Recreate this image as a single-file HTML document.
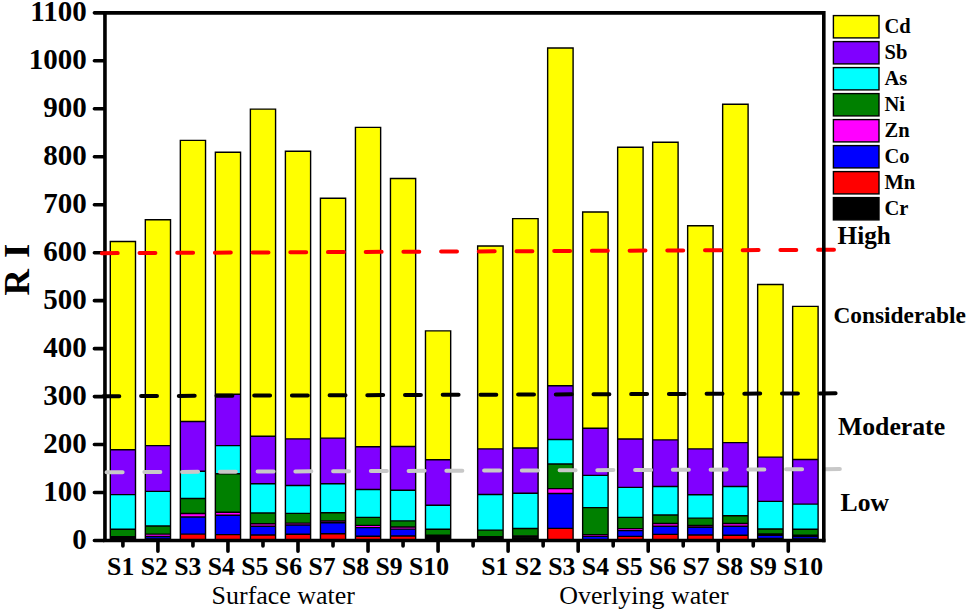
<!DOCTYPE html>
<html><head><meta charset="utf-8"><style>
html,body{margin:0;padding:0;background:#fff;width:968px;height:614px;overflow:hidden}
svg{display:block}
.b{font-family:"Liberation Serif",serif;font-weight:bold;fill:#000}
.r{font-family:"Liberation Serif",serif;font-weight:normal;fill:#000}
</style></head><body>
<svg width="968" height="614" viewBox="0 0 968 614">
<rect width="968" height="614" fill="#fff"/>
<rect x="110.30" y="241.50" width="25.20" height="208.20" fill="#FFFF00"/>
<rect x="110.30" y="449.70" width="25.20" height="44.90" fill="#8000FF"/>
<rect x="110.30" y="494.60" width="25.20" height="34.70" fill="#00FFFF"/>
<rect x="110.30" y="529.30" width="25.20" height="7.30" fill="#008000"/>
<rect x="110.30" y="536.60" width="25.20" height="0.40" fill="#FF00FF"/>
<rect x="110.30" y="537.00" width="25.20" height="0.40" fill="#0000FF"/>
<rect x="110.30" y="537.40" width="25.20" height="0.40" fill="#FF0000"/>
<rect x="110.30" y="537.80" width="25.20" height="2.70" fill="#000000"/>
<path d="M109.60 241.50H136.20M109.60 449.70H136.20M109.60 494.60H136.20M109.60 529.30H136.20M109.60 536.60H136.20M109.60 537.00H136.20M109.60 537.40H136.20M109.60 537.80H136.20M110.30 240.80V540.50M135.50 240.80V540.50" stroke="#000" stroke-width="1.4" fill="none"/>
<rect x="145.32" y="219.80" width="25.20" height="225.80" fill="#FFFF00"/>
<rect x="145.32" y="445.60" width="25.20" height="45.80" fill="#8000FF"/>
<rect x="145.32" y="491.40" width="25.20" height="34.60" fill="#00FFFF"/>
<rect x="145.32" y="526.00" width="25.20" height="8.10" fill="#008000"/>
<rect x="145.32" y="534.10" width="25.20" height="2.40" fill="#FF00FF"/>
<rect x="145.32" y="536.50" width="25.20" height="2.50" fill="#0000FF"/>
<rect x="145.32" y="539.00" width="25.20" height="0.50" fill="#FF0000"/>
<rect x="145.32" y="539.50" width="25.20" height="1.00" fill="#000000"/>
<path d="M144.62 219.80H171.22M144.62 445.60H171.22M144.62 491.40H171.22M144.62 526.00H171.22M144.62 534.10H171.22M144.62 536.50H171.22M144.62 539.00H171.22M144.62 539.50H171.22M145.32 219.10V540.50M170.52 219.10V540.50" stroke="#000" stroke-width="1.4" fill="none"/>
<rect x="180.34" y="140.40" width="25.20" height="281.10" fill="#FFFF00"/>
<rect x="180.34" y="421.50" width="25.20" height="49.70" fill="#8000FF"/>
<rect x="180.34" y="471.20" width="25.20" height="27.30" fill="#00FFFF"/>
<rect x="180.34" y="498.50" width="25.20" height="15.00" fill="#008000"/>
<rect x="180.34" y="513.50" width="25.20" height="3.50" fill="#FF00FF"/>
<rect x="180.34" y="517.00" width="25.20" height="17.10" fill="#0000FF"/>
<rect x="180.34" y="534.10" width="25.20" height="5.90" fill="#FF0000"/>
<rect x="180.34" y="540.00" width="25.20" height="0.50" fill="#000000"/>
<path d="M179.64 140.40H206.24M179.64 421.50H206.24M179.64 471.20H206.24M179.64 498.50H206.24M179.64 513.50H206.24M179.64 517.00H206.24M179.64 534.10H206.24M179.64 540.00H206.24M180.34 139.70V540.50M205.54 139.70V540.50" stroke="#000" stroke-width="1.4" fill="none"/>
<rect x="215.36" y="152.30" width="25.20" height="242.00" fill="#FFFF00"/>
<rect x="215.36" y="394.30" width="25.20" height="51.30" fill="#8000FF"/>
<rect x="215.36" y="445.60" width="25.20" height="28.20" fill="#00FFFF"/>
<rect x="215.36" y="473.80" width="25.20" height="38.40" fill="#008000"/>
<rect x="215.36" y="512.20" width="25.20" height="3.10" fill="#FF00FF"/>
<rect x="215.36" y="515.30" width="25.20" height="19.30" fill="#0000FF"/>
<rect x="215.36" y="534.60" width="25.20" height="5.40" fill="#FF0000"/>
<rect x="215.36" y="540.00" width="25.20" height="0.50" fill="#000000"/>
<path d="M214.66 152.30H241.26M214.66 394.30H241.26M214.66 445.60H241.26M214.66 473.80H241.26M214.66 512.20H241.26M214.66 515.30H241.26M214.66 534.60H241.26M214.66 540.00H241.26M215.36 151.60V540.50M240.56 151.60V540.50" stroke="#000" stroke-width="1.4" fill="none"/>
<rect x="250.38" y="109.10" width="25.20" height="327.10" fill="#FFFF00"/>
<rect x="250.38" y="436.20" width="25.20" height="47.50" fill="#8000FF"/>
<rect x="250.38" y="483.70" width="25.20" height="29.30" fill="#00FFFF"/>
<rect x="250.38" y="513.00" width="25.20" height="10.80" fill="#008000"/>
<rect x="250.38" y="523.80" width="25.20" height="2.40" fill="#FF00FF"/>
<rect x="250.38" y="526.20" width="25.20" height="8.80" fill="#0000FF"/>
<rect x="250.38" y="535.00" width="25.20" height="5.00" fill="#FF0000"/>
<rect x="250.38" y="540.00" width="25.20" height="0.50" fill="#000000"/>
<path d="M249.68 109.10H276.28M249.68 436.20H276.28M249.68 483.70H276.28M249.68 513.00H276.28M249.68 523.80H276.28M249.68 526.20H276.28M249.68 535.00H276.28M249.68 540.00H276.28M250.38 108.40V540.50M275.58 108.40V540.50" stroke="#000" stroke-width="1.4" fill="none"/>
<rect x="285.40" y="151.20" width="25.20" height="287.70" fill="#FFFF00"/>
<rect x="285.40" y="438.90" width="25.20" height="46.60" fill="#8000FF"/>
<rect x="285.40" y="485.50" width="25.20" height="27.90" fill="#00FFFF"/>
<rect x="285.40" y="513.40" width="25.20" height="9.70" fill="#008000"/>
<rect x="285.40" y="523.10" width="25.20" height="1.90" fill="#FF00FF"/>
<rect x="285.40" y="525.00" width="25.20" height="9.30" fill="#0000FF"/>
<rect x="285.40" y="534.30" width="25.20" height="5.70" fill="#FF0000"/>
<rect x="285.40" y="540.00" width="25.20" height="0.50" fill="#000000"/>
<path d="M284.70 151.20H311.30M284.70 438.90H311.30M284.70 485.50H311.30M284.70 513.40H311.30M284.70 523.10H311.30M284.70 525.00H311.30M284.70 534.30H311.30M284.70 540.00H311.30M285.40 150.50V540.50M310.60 150.50V540.50" stroke="#000" stroke-width="1.4" fill="none"/>
<rect x="320.42" y="198.20" width="25.20" height="239.90" fill="#FFFF00"/>
<rect x="320.42" y="438.10" width="25.20" height="45.60" fill="#8000FF"/>
<rect x="320.42" y="483.70" width="25.20" height="29.00" fill="#00FFFF"/>
<rect x="320.42" y="512.70" width="25.20" height="8.30" fill="#008000"/>
<rect x="320.42" y="521.00" width="25.20" height="1.80" fill="#FF00FF"/>
<rect x="320.42" y="522.80" width="25.20" height="11.00" fill="#0000FF"/>
<rect x="320.42" y="533.80" width="25.20" height="6.20" fill="#FF0000"/>
<rect x="320.42" y="540.00" width="25.20" height="0.50" fill="#000000"/>
<path d="M319.72 198.20H346.32M319.72 438.10H346.32M319.72 483.70H346.32M319.72 512.70H346.32M319.72 521.00H346.32M319.72 522.80H346.32M319.72 533.80H346.32M319.72 540.00H346.32M320.42 197.50V540.50M345.62 197.50V540.50" stroke="#000" stroke-width="1.4" fill="none"/>
<rect x="355.44" y="127.40" width="25.20" height="319.30" fill="#FFFF00"/>
<rect x="355.44" y="446.70" width="25.20" height="42.80" fill="#8000FF"/>
<rect x="355.44" y="489.50" width="25.20" height="27.90" fill="#00FFFF"/>
<rect x="355.44" y="517.40" width="25.20" height="8.00" fill="#008000"/>
<rect x="355.44" y="525.40" width="25.20" height="2.20" fill="#FF00FF"/>
<rect x="355.44" y="527.60" width="25.20" height="8.60" fill="#0000FF"/>
<rect x="355.44" y="536.20" width="25.20" height="3.80" fill="#FF0000"/>
<rect x="355.44" y="540.00" width="25.20" height="0.50" fill="#000000"/>
<path d="M354.74 127.40H381.34M354.74 446.70H381.34M354.74 489.50H381.34M354.74 517.40H381.34M354.74 525.40H381.34M354.74 527.60H381.34M354.74 536.20H381.34M354.74 540.00H381.34M355.44 126.70V540.50M380.64 126.70V540.50" stroke="#000" stroke-width="1.4" fill="none"/>
<rect x="390.46" y="178.50" width="25.20" height="268.00" fill="#FFFF00"/>
<rect x="390.46" y="446.50" width="25.20" height="43.70" fill="#8000FF"/>
<rect x="390.46" y="490.20" width="25.20" height="30.70" fill="#00FFFF"/>
<rect x="390.46" y="520.90" width="25.20" height="6.10" fill="#008000"/>
<rect x="390.46" y="527.00" width="25.20" height="2.10" fill="#FF00FF"/>
<rect x="390.46" y="529.10" width="25.20" height="6.90" fill="#0000FF"/>
<rect x="390.46" y="536.00" width="25.20" height="4.00" fill="#FF0000"/>
<rect x="390.46" y="540.00" width="25.20" height="0.50" fill="#000000"/>
<path d="M389.76 178.50H416.36M389.76 446.50H416.36M389.76 490.20H416.36M389.76 520.90H416.36M389.76 527.00H416.36M389.76 529.10H416.36M389.76 536.00H416.36M389.76 540.00H416.36M390.46 177.80V540.50M415.66 177.80V540.50" stroke="#000" stroke-width="1.4" fill="none"/>
<rect x="425.48" y="330.90" width="25.20" height="128.80" fill="#FFFF00"/>
<rect x="425.48" y="459.70" width="25.20" height="45.50" fill="#8000FF"/>
<rect x="425.48" y="505.20" width="25.20" height="24.00" fill="#00FFFF"/>
<rect x="425.48" y="529.20" width="25.20" height="6.10" fill="#008000"/>
<rect x="425.48" y="535.30" width="25.20" height="0.50" fill="#FF00FF"/>
<rect x="425.48" y="535.80" width="25.20" height="0.50" fill="#0000FF"/>
<rect x="425.48" y="536.30" width="25.20" height="0.50" fill="#FF0000"/>
<rect x="425.48" y="536.80" width="25.20" height="3.70" fill="#000000"/>
<path d="M424.78 330.90H451.38M424.78 459.70H451.38M424.78 505.20H451.38M424.78 529.20H451.38M424.78 535.30H451.38M424.78 535.80H451.38M424.78 536.30H451.38M424.78 536.80H451.38M425.48 330.20V540.50M450.68 330.20V540.50" stroke="#000" stroke-width="1.4" fill="none"/>
<rect x="477.65" y="246.00" width="25.45" height="202.90" fill="#FFFF00"/>
<rect x="477.65" y="448.90" width="25.45" height="45.60" fill="#8000FF"/>
<rect x="477.65" y="494.50" width="25.45" height="35.60" fill="#00FFFF"/>
<rect x="477.65" y="530.10" width="25.45" height="6.50" fill="#008000"/>
<rect x="477.65" y="536.60" width="25.45" height="0.40" fill="#FF00FF"/>
<rect x="477.65" y="537.00" width="25.45" height="0.40" fill="#0000FF"/>
<rect x="477.65" y="537.40" width="25.45" height="0.40" fill="#FF0000"/>
<rect x="477.65" y="537.80" width="25.45" height="2.70" fill="#000000"/>
<path d="M476.95 246.00H503.80M476.95 448.90H503.80M476.95 494.50H503.80M476.95 530.10H503.80M476.95 536.60H503.80M476.95 537.00H503.80M476.95 537.40H503.80M476.95 537.80H503.80M477.65 245.30V540.50M503.10 245.30V540.50" stroke="#000" stroke-width="1.4" fill="none"/>
<rect x="512.65" y="218.60" width="25.45" height="229.40" fill="#FFFF00"/>
<rect x="512.65" y="448.00" width="25.45" height="45.30" fill="#8000FF"/>
<rect x="512.65" y="493.30" width="25.45" height="35.20" fill="#00FFFF"/>
<rect x="512.65" y="528.50" width="25.45" height="7.40" fill="#008000"/>
<rect x="512.65" y="535.90" width="25.45" height="0.40" fill="#FF00FF"/>
<rect x="512.65" y="536.30" width="25.45" height="0.40" fill="#0000FF"/>
<rect x="512.65" y="536.70" width="25.45" height="0.40" fill="#FF0000"/>
<rect x="512.65" y="537.10" width="25.45" height="3.40" fill="#000000"/>
<path d="M511.95 218.60H538.80M511.95 448.00H538.80M511.95 493.30H538.80M511.95 528.50H538.80M511.95 535.90H538.80M511.95 536.30H538.80M511.95 536.70H538.80M511.95 537.10H538.80M512.65 217.90V540.50M538.10 217.90V540.50" stroke="#000" stroke-width="1.4" fill="none"/>
<rect x="547.65" y="48.00" width="25.45" height="337.80" fill="#FFFF00"/>
<rect x="547.65" y="385.80" width="25.45" height="53.70" fill="#8000FF"/>
<rect x="547.65" y="439.50" width="25.45" height="24.50" fill="#00FFFF"/>
<rect x="547.65" y="464.00" width="25.45" height="24.60" fill="#008000"/>
<rect x="547.65" y="488.60" width="25.45" height="4.90" fill="#FF00FF"/>
<rect x="547.65" y="493.50" width="25.45" height="34.90" fill="#0000FF"/>
<rect x="547.65" y="528.40" width="25.45" height="11.60" fill="#FF0000"/>
<rect x="547.65" y="540.00" width="25.45" height="0.50" fill="#000000"/>
<path d="M546.95 48.00H573.80M546.95 385.80H573.80M546.95 439.50H573.80M546.95 464.00H573.80M546.95 488.60H573.80M546.95 493.50H573.80M546.95 528.40H573.80M546.95 540.00H573.80M547.65 47.30V540.50M573.10 47.30V540.50" stroke="#000" stroke-width="1.4" fill="none"/>
<rect x="582.65" y="212.00" width="25.45" height="216.30" fill="#FFFF00"/>
<rect x="582.65" y="428.30" width="25.45" height="47.10" fill="#8000FF"/>
<rect x="582.65" y="475.40" width="25.45" height="32.20" fill="#00FFFF"/>
<rect x="582.65" y="507.60" width="25.45" height="27.00" fill="#008000"/>
<rect x="582.65" y="534.60" width="25.45" height="1.80" fill="#FF00FF"/>
<rect x="582.65" y="536.40" width="25.45" height="3.60" fill="#0000FF"/>
<rect x="582.65" y="540.00" width="25.45" height="0.20" fill="#FF0000"/>
<rect x="582.65" y="540.20" width="25.45" height="0.30" fill="#000000"/>
<path d="M581.95 212.00H608.80M581.95 428.30H608.80M581.95 475.40H608.80M581.95 507.60H608.80M581.95 534.60H608.80M581.95 536.40H608.80M581.95 540.00H608.80M581.95 540.20H608.80M582.65 211.30V540.50M608.10 211.30V540.50" stroke="#000" stroke-width="1.4" fill="none"/>
<rect x="617.65" y="147.20" width="25.45" height="291.80" fill="#FFFF00"/>
<rect x="617.65" y="439.00" width="25.45" height="48.40" fill="#8000FF"/>
<rect x="617.65" y="487.40" width="25.45" height="30.00" fill="#00FFFF"/>
<rect x="617.65" y="517.40" width="25.45" height="11.20" fill="#008000"/>
<rect x="617.65" y="528.60" width="25.45" height="2.00" fill="#FF00FF"/>
<rect x="617.65" y="530.60" width="25.45" height="5.80" fill="#0000FF"/>
<rect x="617.65" y="536.40" width="25.45" height="3.60" fill="#FF0000"/>
<rect x="617.65" y="540.00" width="25.45" height="0.50" fill="#000000"/>
<path d="M616.95 147.20H643.80M616.95 439.00H643.80M616.95 487.40H643.80M616.95 517.40H643.80M616.95 528.60H643.80M616.95 530.60H643.80M616.95 536.40H643.80M616.95 540.00H643.80M617.65 146.50V540.50M643.10 146.50V540.50" stroke="#000" stroke-width="1.4" fill="none"/>
<rect x="652.65" y="142.20" width="25.45" height="297.70" fill="#FFFF00"/>
<rect x="652.65" y="439.90" width="25.45" height="46.60" fill="#8000FF"/>
<rect x="652.65" y="486.50" width="25.45" height="28.50" fill="#00FFFF"/>
<rect x="652.65" y="515.00" width="25.45" height="8.50" fill="#008000"/>
<rect x="652.65" y="523.50" width="25.45" height="2.70" fill="#FF00FF"/>
<rect x="652.65" y="526.20" width="25.45" height="8.20" fill="#0000FF"/>
<rect x="652.65" y="534.40" width="25.45" height="5.60" fill="#FF0000"/>
<rect x="652.65" y="540.00" width="25.45" height="0.50" fill="#000000"/>
<path d="M651.95 142.20H678.80M651.95 439.90H678.80M651.95 486.50H678.80M651.95 515.00H678.80M651.95 523.50H678.80M651.95 526.20H678.80M651.95 534.40H678.80M651.95 540.00H678.80M652.65 141.50V540.50M678.10 141.50V540.50" stroke="#000" stroke-width="1.4" fill="none"/>
<rect x="687.65" y="225.80" width="25.45" height="223.10" fill="#FFFF00"/>
<rect x="687.65" y="448.90" width="25.45" height="45.90" fill="#8000FF"/>
<rect x="687.65" y="494.80" width="25.45" height="23.30" fill="#00FFFF"/>
<rect x="687.65" y="518.10" width="25.45" height="7.40" fill="#008000"/>
<rect x="687.65" y="525.50" width="25.45" height="1.70" fill="#FF00FF"/>
<rect x="687.65" y="527.20" width="25.45" height="7.80" fill="#0000FF"/>
<rect x="687.65" y="535.00" width="25.45" height="5.00" fill="#FF0000"/>
<rect x="687.65" y="540.00" width="25.45" height="0.50" fill="#000000"/>
<path d="M686.95 225.80H713.80M686.95 448.90H713.80M686.95 494.80H713.80M686.95 518.10H713.80M686.95 525.50H713.80M686.95 527.20H713.80M686.95 535.00H713.80M686.95 540.00H713.80M687.65 225.10V540.50M713.10 225.10V540.50" stroke="#000" stroke-width="1.4" fill="none"/>
<rect x="722.65" y="104.20" width="25.45" height="338.40" fill="#FFFF00"/>
<rect x="722.65" y="442.60" width="25.45" height="43.90" fill="#8000FF"/>
<rect x="722.65" y="486.50" width="25.45" height="29.20" fill="#00FFFF"/>
<rect x="722.65" y="515.70" width="25.45" height="7.80" fill="#008000"/>
<rect x="722.65" y="523.50" width="25.45" height="2.70" fill="#FF00FF"/>
<rect x="722.65" y="526.20" width="25.45" height="9.10" fill="#0000FF"/>
<rect x="722.65" y="535.30" width="25.45" height="4.70" fill="#FF0000"/>
<rect x="722.65" y="540.00" width="25.45" height="0.50" fill="#000000"/>
<path d="M721.95 104.20H748.80M721.95 442.60H748.80M721.95 486.50H748.80M721.95 515.70H748.80M721.95 523.50H748.80M721.95 526.20H748.80M721.95 535.30H748.80M721.95 540.00H748.80M722.65 103.50V540.50M748.10 103.50V540.50" stroke="#000" stroke-width="1.4" fill="none"/>
<rect x="757.65" y="284.50" width="25.45" height="172.60" fill="#FFFF00"/>
<rect x="757.65" y="457.10" width="25.45" height="44.30" fill="#8000FF"/>
<rect x="757.65" y="501.40" width="25.45" height="27.60" fill="#00FFFF"/>
<rect x="757.65" y="529.00" width="25.45" height="5.00" fill="#008000"/>
<rect x="757.65" y="534.00" width="25.45" height="1.40" fill="#FF00FF"/>
<rect x="757.65" y="535.40" width="25.45" height="3.10" fill="#0000FF"/>
<rect x="757.65" y="538.50" width="25.45" height="1.00" fill="#FF0000"/>
<rect x="757.65" y="539.50" width="25.45" height="1.00" fill="#000000"/>
<path d="M756.95 284.50H783.80M756.95 457.10H783.80M756.95 501.40H783.80M756.95 529.00H783.80M756.95 534.00H783.80M756.95 535.40H783.80M756.95 538.50H783.80M756.95 539.50H783.80M757.65 283.80V540.50M783.10 283.80V540.50" stroke="#000" stroke-width="1.4" fill="none"/>
<rect x="792.65" y="306.40" width="25.45" height="153.10" fill="#FFFF00"/>
<rect x="792.65" y="459.50" width="25.45" height="44.60" fill="#8000FF"/>
<rect x="792.65" y="504.10" width="25.45" height="25.20" fill="#00FFFF"/>
<rect x="792.65" y="529.30" width="25.45" height="6.00" fill="#008000"/>
<rect x="792.65" y="535.30" width="25.45" height="1.20" fill="#FF00FF"/>
<rect x="792.65" y="536.50" width="25.45" height="2.50" fill="#0000FF"/>
<rect x="792.65" y="539.00" width="25.45" height="0.50" fill="#FF0000"/>
<rect x="792.65" y="539.50" width="25.45" height="1.00" fill="#000000"/>
<path d="M791.95 306.40H818.80M791.95 459.50H818.80M791.95 504.10H818.80M791.95 529.30H818.80M791.95 535.30H818.80M791.95 536.50H818.80M791.95 539.00H818.80M791.95 539.50H818.80M792.65 305.70V540.50M818.10 305.70V540.50" stroke="#000" stroke-width="1.4" fill="none"/>
<path d="M104.95 11.1V542.3M103 540.5H825.4" stroke="#000" stroke-width="3.6" fill="none"/>
<path d="M94.4 540.50H104M94.4 492.53H104M94.4 444.56H104M94.4 396.60H104M94.4 348.63H104M94.4 300.66H104M94.4 252.69H104M94.4 204.72H104M94.4 156.75H104M94.4 108.79H104M94.4 60.82H104M94.4 12.85H104M122.90 541V545.90M157.92 541V551.20M192.94 541V545.90M227.96 541V551.20M262.98 541V545.90M298.00 541V551.20M333.02 541V545.90M368.04 541V551.20M403.06 541V545.90M438.08 541V551.20M473.10 541V545.90M508.12 541V551.20M543.14 541V545.90M578.16 541V551.20M613.18 541V545.90M648.20 541V551.20M683.22 541V545.90M718.24 541V551.20M753.26 541V545.90M788.28 541V551.20" stroke="#000" stroke-width="3.6" stroke-linecap="round" fill="none"/>
<line x1="99.8" y1="253.2" x2="835.6" y2="249.7" stroke="#FF0000" stroke-width="4" stroke-linecap="round" stroke-dasharray="15.9 21.8" transform="translate(2,0)"/>
<line x1="101.4" y1="396.2" x2="837.1" y2="393.3" stroke="#000" stroke-width="4" stroke-linecap="round" stroke-dasharray="15.9 21.8" transform="translate(2,0)"/>
<line x1="104.6" y1="472.2" x2="840.5" y2="469.1" stroke="#C8C8C8" stroke-width="4" stroke-linecap="round" stroke-dasharray="16.0 21.75" transform="translate(2,0)"/>
<path d="M103 12.85H825.6M823.8 11.1V542.3" stroke="#000" stroke-width="3.6" fill="none"/>
<text x="86.7" y="548.60" text-anchor="end" class="b" font-size="29">0</text>
<text x="86.7" y="500.63" text-anchor="end" class="b" font-size="29">100</text>
<text x="86.7" y="452.66" text-anchor="end" class="b" font-size="29">200</text>
<text x="86.7" y="404.70" text-anchor="end" class="b" font-size="29">300</text>
<text x="86.7" y="356.73" text-anchor="end" class="b" font-size="29">400</text>
<text x="86.7" y="308.76" text-anchor="end" class="b" font-size="29">500</text>
<text x="86.7" y="260.79" text-anchor="end" class="b" font-size="29">600</text>
<text x="86.7" y="212.82" text-anchor="end" class="b" font-size="29">700</text>
<text x="86.7" y="164.85" text-anchor="end" class="b" font-size="29">800</text>
<text x="86.7" y="116.89" text-anchor="end" class="b" font-size="29">900</text>
<text x="86.7" y="68.92" text-anchor="end" class="b" font-size="29">1000</text>
<text x="86.7" y="20.95" text-anchor="end" class="b" font-size="29">1100</text>
<text transform="translate(28.5,269.7) rotate(-90)" text-anchor="middle" class="b" font-size="36.5" word-spacing="2">R I</text>
<text x="107.1" y="574.5" class="b" font-size="25.7" xml:space="preserve">S1 S2 S3 S4 S5 S6 S7 S8 S9 S10</text>
<text x="481.2" y="574.5" class="b" font-size="25.7" xml:space="preserve">S1 S2 S3 S4 S5 S6 S7 S8 S9 S10</text>
<text x="211.6" y="604" class="r" font-size="25.95">Surface water</text>
<text x="559.3" y="604" class="r" font-size="25.95">Overlying water</text>
<rect x="833.4" y="15.60" width="45.6" height="22.3" fill="#FFFF00" stroke="#000" stroke-width="1.4"/>
<text x="884.5" y="33.10" class="b" font-size="20.5">Cd</text>
<rect x="833.4" y="41.60" width="45.6" height="22.3" fill="#8000FF" stroke="#000" stroke-width="1.4"/>
<text x="884.5" y="59.10" class="b" font-size="20.5">Sb</text>
<rect x="833.4" y="67.60" width="45.6" height="22.3" fill="#00FFFF" stroke="#000" stroke-width="1.4"/>
<text x="884.5" y="85.10" class="b" font-size="20.5">As</text>
<rect x="833.4" y="93.60" width="45.6" height="22.3" fill="#008000" stroke="#000" stroke-width="1.4"/>
<text x="884.5" y="111.10" class="b" font-size="20.5">Ni</text>
<rect x="833.4" y="119.60" width="45.6" height="22.3" fill="#FF00FF" stroke="#000" stroke-width="1.4"/>
<text x="884.5" y="137.10" class="b" font-size="20.5">Zn</text>
<rect x="833.4" y="145.60" width="45.6" height="22.3" fill="#0000FF" stroke="#000" stroke-width="1.4"/>
<text x="884.5" y="163.10" class="b" font-size="20.5">Co</text>
<rect x="833.4" y="171.60" width="45.6" height="22.3" fill="#FF0000" stroke="#000" stroke-width="1.4"/>
<text x="884.5" y="189.10" class="b" font-size="20.5">Mn</text>
<rect x="833.4" y="197.60" width="45.6" height="22.3" fill="#000000" stroke="#000" stroke-width="1.4"/>
<text x="884.5" y="215.10" class="b" font-size="20.5">Cr</text>
<text x="837.6" y="243.8" class="b" font-size="25.2">High</text>
<text x="833.4" y="322.8" class="b" font-size="23.4">Considerable</text>
<text x="837.9" y="434.7" class="b" font-size="25.75">Moderate</text>
<text x="840.6" y="511.3" class="b" font-size="25.6">Low</text>
</svg>
</body></html>
